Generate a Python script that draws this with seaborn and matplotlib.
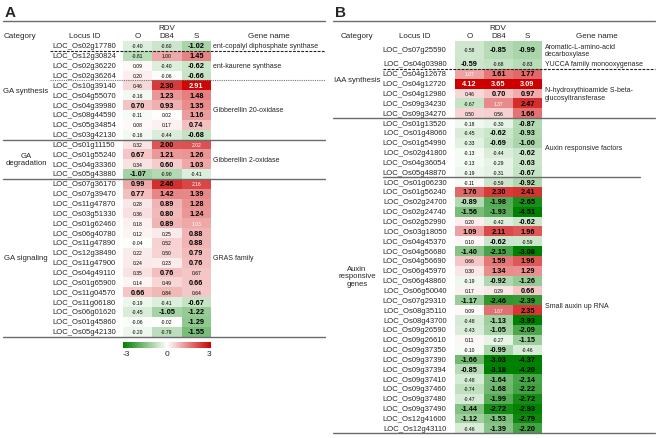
import numpy as np
import pandas as pd
import seaborn as sns
import matplotlib
matplotlib.use('Agg')
import matplotlib.pyplot as plt
from matplotlib.colors import LinearSegmentedColormap
from matplotlib.lines import Line2D

# ---------------- data ----------------
cols = ['O', 'D84', 'S']

a_locus = ['LOC_Os02g17780', 'LOC_Os12g30824', 'LOC_Os02g36220', 'LOC_Os02g36264',
           'LOC_Os10g39140', 'LOC_Os04g55070', 'LOC_Os04g39980', 'LOC_Os08g44590',
           'LOC_Os05g34854', 'LOC_Os03g42130', 'LOC_Os01g11150', 'LOC_Os01g55240',
           'LOC_Os04g33360', 'LOC_Os05g43880', 'LOC_Os07g36170', 'LOC_Os07g39470',
           'LOC_Os11g47870', 'LOC_Os03g51330', 'LOC_Os01g62460', 'LOC_Os06g40780',
           'LOC_Os11g47890', 'LOC_Os12g38490', 'LOC_Os11g47900', 'LOC_Os04g49110',
           'LOC_Os01g65900', 'LOC_Os11g04570', 'LOC_Os11g06180', 'LOC_Os06g01620',
           'LOC_Os01g45860', 'LOC_Os05g42130']
a_O = [-0.40, -0.81, 0.09, 0.20, 0.46, -0.16, 0.70, -0.11, 0.08, -0.16,
       0.32, 0.67, 0.34, -1.07, 0.99, 0.77, 0.28, 0.36, 0.18, 0.12,
       -0.04, 0.22, 0.24, 0.35, 0.14, 0.66, -0.19, -0.45, -0.06, -0.20]
a_D84 = [-0.60, 1.00, -0.40, -0.06, 2.30, 1.23, 0.93, 0.02, 0.17, -0.44,
         2.00, 1.21, 0.60, -0.90, 2.46, 1.42, 0.89, 0.80, 0.89, 0.25,
         0.52, 0.50, 0.23, 0.76, 0.49, 0.84, -0.41, -1.05, -0.02, -0.79]
a_S = [-1.02, 1.45, -0.62, -0.66, 2.91, 1.48, 1.35, 1.16, 0.74, -0.68,
       2.02, 1.26, 1.03, -0.41, 2.16, 1.39, 1.28, 1.24, 1.03, 0.88,
       0.88, 0.79, 0.76, 0.67, 0.66, 0.64, -0.67, -1.22, -1.29, -1.55]
# significant (bold) flags per row: O, D84, S
a_sig = ['001', '001', '001', '001', '011', '011', '111', '001', '001', '001',
         '010', '111', '011', '100', '110', '111', '011', '011', '010', '001',
         '001', '001', '001', '010', '001', '100', '001', '011', '001', '001']
a_category = [('GA synthesis', 0, 9), ('GA\ndegradation', 10, 13), ('GA signaling', 14, 29)]
a_gene = [('ent-copalyl diphosphate synthase', 0, 0), ('ent-kaurene synthase', 1, 3),
          ('Gibberellin 20-oxidase', 4, 9), ('Gibberellin 2-oxidase', 10, 13),
          ('GRAS family', 14, 29)]

b_locus = ['LOC_Os07g25590', 'LOC_Os04g03980', 'LOC_Os04g12678', 'LOC_Os04g12720',
           'LOC_Os04g12980', 'LOC_Os09g34230', 'LOC_Os09g34270', 'LOC_Os01g13520',
           'LOC_Os01g48060', 'LOC_Os01g54990', 'LOC_Os02g41800', 'LOC_Os04g36054',
           'LOC_Os05g48870', 'LOC_Os01g06230', 'LOC_Os01g56240', 'LOC_Os02g24700',
           'LOC_Os02g24740', 'LOC_Os02g52990', 'LOC_Os03g18050', 'LOC_Os04g45370',
           'LOC_Os04g56680', 'LOC_Os04g56690', 'LOC_Os06g45970', 'LOC_Os06g48860',
           'LOC_Os06g50040', 'LOC_Os07g29310', 'LOC_Os08g35110', 'LOC_Os08g43700',
           'LOC_Os09g26590', 'LOC_Os09g26610', 'LOC_Os09g37350', 'LOC_Os09g37390',
           'LOC_Os09g37394', 'LOC_Os09g37410', 'LOC_Os09g37460', 'LOC_Os09g37480',
           'LOC_Os09g37490', 'LOC_Os12g41600', 'LOC_Os12g43110']
b_O = [-0.58, -0.59, 1.07, 4.12, 0.46, -0.67, 0.50, -0.18, -0.45, -0.33,
       -0.13, -0.13, -0.19, -0.11, 1.76, -0.89, -1.56, 0.20, 1.09, 0.10,
       -1.40, 0.66, 0.30, -0.19, 0.17, -1.17, 0.09, -0.48, -0.43, 0.11,
       -0.10, -1.66, -0.85, -0.48, -0.74, -0.47, -1.44, -1.12, -0.46]
b_D84 = [-0.85, -0.68, 1.61, 3.65, 0.70, 1.37, 0.56, -0.30, -0.62, -0.69,
         -0.44, -0.29, -0.31, -0.59, 2.30, -1.98, -1.93, -0.42, 2.11, -0.62,
         -2.15, 1.59, 1.34, -0.92, 0.29, -2.46, 1.67, -1.13, -1.05, -0.27,
         -0.99, -3.03, -3.18, -1.64, -1.68, -1.99, -2.72, -1.53, -1.39]
b_S = [-0.99, -0.83, 1.77, 3.09, 0.97, 2.47, 1.66, -0.87, -0.93, -1.00,
       -0.62, -0.63, -0.67, -0.92, 2.41, -2.65, -4.51, -0.62, 1.96, -0.59,
       -3.08, 1.96, 1.29, -1.26, 0.66, -2.39, 2.35, -3.93, -2.09, -1.15,
       -0.46, -4.37, -4.20, -2.14, -2.22, -2.72, -2.93, -2.79, -2.20]
b_sig = ['011', '100', '011', '111', '011', '001', '001', '001', '011', '011',
         '001', '001', '001', '001', '111', '111', '111', '001', '111', '010',
         '111', '011', '011', '011', '001', '111', '001', '011', '011', '001',
         '010', '111', '111', '011', '011', '011', '111', '111', '011']
b_category = [('IAA synthesis', 0, 6), ('Auxin\nresponsive\ngenes', 7, 38)]
b_gene = [('Aromatic-L-amino-acid\ndecarboxylase', 0, 0), ('YUCCA family monooxygenase', 1, 1),
          ('N-hydroxythioamide S-beta-\nglucosyltransferase', 2, 6),
          ('Auxin responsive factors', 7, 12), ('Small auxin up RNA', 13, 38)]

dfA = pd.DataFrame({'O': a_O, 'D84': a_D84, 'S': a_S}, index=a_locus)
dfB = pd.DataFrame({'O': b_O, 'D84': b_D84, 'S': b_S}, index=b_locus)

# ---------------- style ----------------
sns.set_style('white')
plt.rcParams['font.family'] = ['Liberation Sans', 'DejaVu Sans']

cmap = LinearSegmentedColormap.from_list('gwr', ['#008000', '#ffffff', '#cc0000'])

W, H = 661, 439
fig = plt.figure(figsize=(W / 100, H / 100), dpi=100)


def box(x0, y0, x1, y1):
    return [x0 / W, 1 - y1 / H, (x1 - x0) / W, (y1 - y0) / H]


def ftext(x, y, s, **kw):
    kw.setdefault('fontsize', 5.8)
    kw.setdefault('ha', 'center')
    kw.setdefault('va', 'center')
    fig.text(x / W, 1 - y / H, s, **kw)


def hline(x0, x1, y, **kw):
    fig.add_artist(Line2D([x0 / W, x1 / W], [1 - y / H, 1 - y / H],
                          transform=fig.transFigure, **kw))


solid = dict(color='#6b6b6b', lw=1.0)
dashed = dict(color='#222222', lw=0.8, ls=(0, (2.5, 1.2)))
dotted = dict(color='#777777', lw=0.8, ls=(0, (1, 1)))

h = 9.85     # row height in px
top = 42     # first data row top edge (px)
h1 = 18      # taller first row of panel B


def heat(ax, df, sig, show_cols, pad):
    sns.heatmap(df, ax=ax, cmap=cmap, vmin=-3, vmax=3, cbar=False,
                xticklabels=cols if show_cols else False,
                yticklabels=list(df.index))
    for i in range(df.shape[0]):
        for j in range(3):
            v = df.iat[i, j]
            bold = sig[i][j] == '1'
            color = 'white' if (v > 2.85 or (not bold and v > 1.0)) else 'black'
            ax.text(j + 0.5, i + 0.5, f'{v:.2f}', ha='center', va='center',
                    fontsize=5.3 if bold else 3.6,
                    fontweight='bold' if bold else 'normal', color=color)
    ax.tick_params(axis='y', length=0, pad=pad, labelsize=5.5)
    plt.setp(ax.get_yticklabels(), ha='center', rotation=0)
    if show_cols:
        ax.xaxis.tick_top()
        ax.tick_params(axis='x', length=0, pad=1.5, labelsize=5.8)
    ax.set_xlabel('')
    ax.set_ylabel('')


# ---------------- panel A ----------------
def edgeA(i):
    return top + i * h


axA = fig.add_axes(box(123, edgeA(0), 211, edgeA(30)))
heat(axA, dfA, a_sig, True, 28)

ftext(5, 13, 'A', fontsize=11, fontweight='bold', ha='left')
hline(3, 325, 22, **solid)
ftext(167, 29, 'RDV')
ftext(20, 37, 'Category')
ftext(85, 37, 'Locus ID')
ftext(269, 37, 'Gene name')
for name, s, e in a_category:
    ftext(26, (edgeA(s) + edgeA(e + 1)) / 2, name, fontsize=5.6, linespacing=1.1)
for name, s, e in a_gene:
    ftext(213, (edgeA(s) + edgeA(e + 1)) / 2, name, ha='left', fontsize=5.0)
hline(50, 325, edgeA(1), **dashed)
hline(50, 325, edgeA(4), **dotted)
hline(3, 325, edgeA(10), **solid)
hline(3, 325, edgeA(14), **solid)
hline(3, 325, edgeA(30), **solid)

# colour bar
cax = fig.add_axes(box(123, 343, 211, 349))
cb = fig.colorbar(axA.collections[0], cax=cax, orientation='horizontal', ticks=[-3, 0, 3])
cb.outline.set_visible(False)
cax.tick_params(length=0, labelsize=6, pad=1.5)
cax.set_xticklabels(['-3', '0', '3'])
tl = cax.get_xticklabels()
tl[0].set_ha('left')
tl[-1].set_ha('right')


# ---------------- panel B ----------------
def edgeB(i):
    return top if i == 0 else top + h1 + (i - 1) * h


axB1 = fig.add_axes(box(455, edgeB(0), 542, edgeB(1)))
heat(axB1, dfB.iloc[:1], b_sig[:1], True, 29)
axB2 = fig.add_axes(box(455, edgeB(1), 542, edgeB(39)))
heat(axB2, dfB.iloc[1:], b_sig[1:], False, 29)

ftext(335, 13, 'B', fontsize=11, fontweight='bold', ha='left')
hline(333, 655, 22, **solid)
ftext(498, 29, 'RDV')
ftext(357, 37, 'Category')
ftext(415, 37, 'Locus ID')
ftext(597, 37, 'Gene name')
for name, s, e in b_category:
    ftext(357, (edgeB(s) + edgeB(e + 1)) / 2, name, fontsize=5.6, linespacing=1.1)
for name, s, e in b_gene:
    ftext(545, (edgeB(s) + edgeB(e + 1)) / 2, name, ha='left', fontsize=5.0,
          linespacing=1.1)
hline(383, 655, edgeB(2), **dashed)
hline(333, 655, edgeB(7), **solid)
hline(383, 640, edgeB(13), **solid)
hline(333, 655, edgeB(39), **solid)

fig.savefig('out.png', dpi=100)
